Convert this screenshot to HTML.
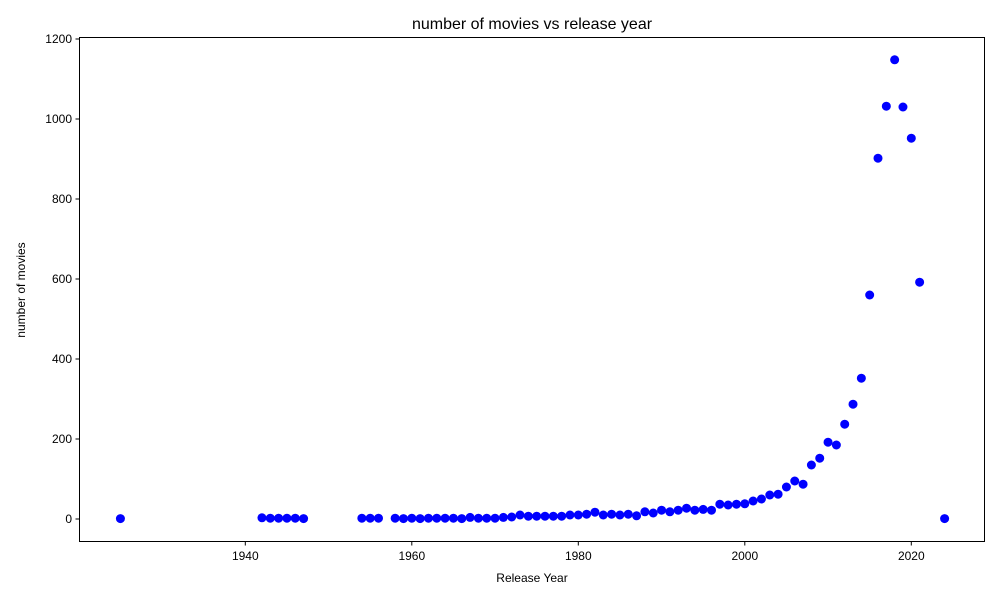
<!DOCTYPE html>
<html><head><meta charset="utf-8"><style>
html,body{margin:0;padding:0;background:#fff;}
svg text{font-family:"Liberation Sans","DejaVu Sans",sans-serif;fill:#000;}
</style></head><body>
<svg id="chart" width="1000" height="600" xmlns="http://www.w3.org/2000/svg">
<rect width="1000" height="600" fill="#fff"/>
<text x="532" y="29" font-size="16" text-anchor="middle">number of movies vs release year</text>
<text x="532" y="582" font-size="12" text-anchor="middle">Release Year</text>
<text transform="translate(25,290) rotate(-90)" font-size="12" text-anchor="middle">number of movies</text>
<g id="ticks"></g>
<g id="points"></g>
<rect x="79.5" y="37.5" width="905" height="504" fill="none" stroke="#000" stroke-width="1"/>
</svg>
<script>
const years=[1925,1942,1943,1944,1945,1946,1947,1954,1955,1956,1958,1959,1960,1961,1962,1963,1964,1965,1966,1967,1968,1969,1970,1971,1972,1973,1974,1975,1976,1977,1978,1979,1980,1981,1982,1983,1984,1985,1986,1987,1988,1989,1990,1991,1992,1993,1994,1995,1996,1997,1998,1999,2000,2001,2002,2003,2004,2005,2006,2007,2008,2009,2010,2011,2012,2013,2014,2015,2016,2017,2018,2019,2020,2021,2024];
const counts=[1,3,2,2,2,2,1,2,2,2,2,1,2,1,2,2,2,2,1,4,2,2,2,4,5,10,7,7,7,7,7,10,10,12,17,10,12,10,12,8,18,15,22,18,22,27,22,24,22,37,35,37,38,45,50,60,62,80,95,87,135,152,192,185,237,287,352,560,902,1032,1148,1030,952,592,1];
const xTicks=[1940,1960,1980,2000,2020];
const yTicks=[0,200,400,600,800,1000,1200];
const xs=v=>245.3+(v-1940)*8.325;
const ys=v=>519-v*0.4;
const NS="http://www.w3.org/2000/svg";
const tg=document.getElementById('ticks'), pg=document.getElementById('points');
function mk(tag,attrs,parent){const e=document.createElementNS(NS,tag);for(const k in attrs)e.setAttribute(k,attrs[k]);parent.appendChild(e);return e;}
xTicks.forEach(t=>{
  const x=xs(t);
  const l=mk('line',{x1:x,x2:x,y1:541.5,y2:545.5,stroke:'#000'},tg);
  
  
  const tx=mk('text',{x:x,y:560,'font-size':12,'text-anchor':'middle'},tg);
  tx.textContent=t;
  
  
});
yTicks.forEach(t=>{
  const y=ys(t);
  const l=mk('line',{x1:75.5,x2:79.5,y1:y,y2:y,stroke:'#000'},tg);
  
  
  const tx=mk('text',{x:72,y:y+4,'font-size':12,'text-anchor':'end'},tg);
  tx.textContent=t;
  
  
});
years.forEach((yr,i)=>{
  const c=mk('circle',{cx:xs(yr),cy:ys(counts[i]),r:4.5,fill:'#0000ff'},pg);
  
  
});
</script>
</body></html>
